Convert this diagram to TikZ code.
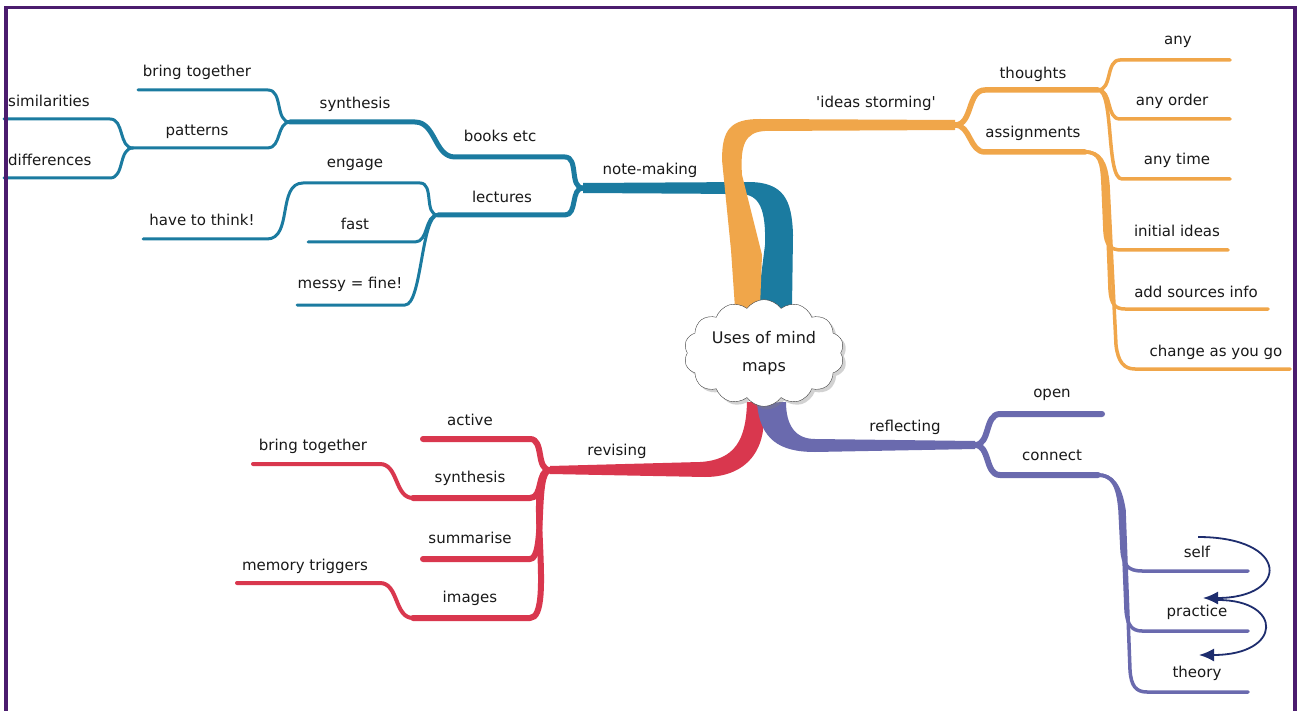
\documentclass[tikz,border=0pt]{standalone}
\usepackage{fontspec}
\setmainfont{DejaVu Sans}
\usetikzlibrary{shapes.symbols,shadows,arrows.meta}
\definecolor{mmblue}{HTML}{1B7BA0}
\definecolor{mmorange}{HTML}{F0A64A}
\definecolor{mmred}{HTML}{D9374E}
\definecolor{mmpurple}{HTML}{6A6AAE}
\definecolor{mmnavy}{HTML}{1E2D6E}
\definecolor{mmframe}{HTML}{4B1C6E}
\begin{document}
\begin{tikzpicture}[x=1pt,y=-1pt,
  font=\fontsize{15}{17}\selectfont,
  lbl/.style={inner sep=0pt,text=black!90},
  brbase/.style={line cap=round,line join=round},
  bleaf/.style={brbase,draw=mmblue,line width=3pt},
  bmid/.style={brbase,draw=mmblue,line width=5pt},
  oleaf/.style={brbase,draw=mmorange,line width=3.5pt},
  omid/.style={brbase,draw=mmorange,line width=5.5pt},
  rleaf/.style={brbase,draw=mmred,line width=4pt},
  rmid/.style={brbase,draw=mmred,line width=6pt},
  pleaf/.style={brbase,draw=mmpurple,line width=3.5pt},
  pmid/.style={brbase,draw=mmpurple,line width=6pt},
  cyc/.style={draw=mmnavy,line width=1.8pt,-{Latex[length=15pt,width=13pt,fill=mmnavy]}},
  long/.style={out=0,in=180,looseness=0.45}]
\useasboundingbox (0,0) rectangle (1298,711);
\fill[white] (0,0) rectangle (1298,711);

% ---------- blue: note-making ----------
\coordinate (nmJ) at (583,188);
\coordinate (synJ) at (290,122);
\coordinate (patJ) at (133,148);
\coordinate (lecJ) at (438,215);
\fill[mmblue] (nmJ) -- (583,183) -- (748,182) .. controls (784,182) and (792,200) .. (793,235)
  -- (792,308) -- (757,308) -- (765,245) .. controls (766,210) and (760,194) .. (740,194) -- (583,193) -- cycle;
\draw[bmid] (synJ) -- (415,122) to[out=0,in=180] (455,157) -- (565,157) to[out=0,in=180] (nmJ);
\draw[bmid] (lecJ) -- (565,215) to[out=0,in=180] (nmJ);
\draw[bleaf] (138,90) -- (268,90) to[out=0,in=180] (synJ);
\draw[bleaf] (patJ) -- (268,148) to[out=0,in=180] (synJ);
\draw[bleaf] (4,119) -- (110,119) to[out=0,in=180] (patJ);
\draw[bleaf] (4,178) -- (110,178) to[out=0,in=180] (patJ);
\draw[bleaf] (143,239) -- (267,239) to[out=0,in=180] (303,183) -- (420,183) to[out=0,in=180] (lecJ);
\draw[bleaf] (308,242) -- (415,242) to[out=0,in=180] (lecJ);
\draw[bleaf] (297,305) -- (405,305) to[long] (lecJ);

% ---------- orange: ideas storming ----------
\coordinate (idJ) at (955,125);
\coordinate (thJ) at (1098,90);
\coordinate (asJ) at (1085,152);
\fill[mmorange] (idJ) -- (955,120) -- (760,119) .. controls (730,119) and (722,130) .. (722,160)
  -- (731,250) -- (735,308) -- (760,308) -- (762,255) -- (742,175)
  .. controls (740,145) and (745,132) .. (765,131) -- (955,130) -- cycle;
\draw[omid] (idJ) to[out=0,in=180] (985,90) -- (thJ);
\draw[omid] (idJ) to[out=0,in=180] (985,152) -- (asJ);
\draw[oleaf] (thJ) to[out=0,in=180] (1120,60) -- (1230,60);
\draw[oleaf] (thJ) to[out=0,in=180] (1120,119) -- (1230,119);
\draw[oleaf] (thJ) to[long] (1122,179) -- (1230,179);
\draw[oleaf] (asJ) .. controls (1100,152) and (1102,162) .. (1103,185) -- (1105,232)
  .. controls (1106,245) and (1110,250) .. (1122,250) -- (1228,250);
\draw[oleaf] (asJ) .. controls (1100,152) and (1104,162) .. (1106,185) -- (1110,290)
  .. controls (1111,304) and (1115,309) .. (1125,309) -- (1268,309);
\draw[oleaf] (asJ) .. controls (1100,152) and (1106,162) .. (1108,185) -- (1116,345)
  .. controls (1118,362) and (1124,369) .. (1135,369) -- (1290,369);

% ---------- red: revising ----------
\coordinate (rvJ) at (550,470);
\fill[mmred] (rvJ) -- (550,466) -- (700,462) .. controls (735,460) and (746,440) .. (747,402)
  -- (762,402) .. controls (770,445) and (750,477) .. (705,477) -- (550,474) -- cycle;
\draw[rmid] (423,439) -- (530,439) to[out=0,in=180] (rvJ);
\draw[rmid] (413,498) -- (530,498) to[out=0,in=180] (rvJ);
\draw[rleaf] (253,464) -- (380,464) to[out=0,in=180] (413,498);
\draw[rmid] (423,559) -- (530,559) to[long] (rvJ);
\draw[rmid] (413,618) -- (530,618) to[long] (rvJ);
\draw[rleaf] (237,583) -- (380,583) to[out=0,in=180] (413,618);

% ---------- purple: reflecting ----------
\coordinate (rfJ) at (975,445);
\coordinate (cnJ) at (1098,475);
\fill[mmpurple] (757,403) .. controls (760,440) and (780,452) .. (815,452) -- (975,449) -- (rfJ)
  -- (975,441) -- (815,439) .. controls (795,439) and (786,425) .. (786,402) -- cycle;
\draw[pmid] (rfJ) to[out=0,in=180] (1000,414) -- (1102,414);
\draw[pmid] (rfJ) to[out=0,in=180] (1000,475) -- (cnJ);
\draw[pleaf] (cnJ) .. controls (1112,475) and (1118,485) .. (1120,510) -- (1122,550)
  .. controls (1123,565) and (1128,571) .. (1142,571) -- (1248,571);
\draw[pleaf] (cnJ) .. controls (1112,475) and (1119,485) .. (1122,510) -- (1126,610)
  .. controls (1127,625) and (1132,631) .. (1142,631) -- (1248,631);
\draw[pleaf] (cnJ) .. controls (1112,475) and (1120,485) .. (1124,510) -- (1130,670)
  .. controls (1131,686) and (1136,692) .. (1147,692) -- (1248,692);

% ---------- centre ----------
\node[cloud,cloud puffs=14,cloud puff arc=110,aspect=1.6,draw=black!75,fill=white,
  drop shadow={shadow xshift=3pt,shadow yshift=-3pt,opacity=0.35},
  minimum width=160pt,minimum height=100pt,align=center,inner sep=0pt,
  font=\fontsize{16}{28}\selectfont,text=black!90] (cloud) at (764,353) {Uses of mind\\maps};

% ---------- labels ----------
\node[lbl,anchor=west] (l01) at (8,101) {similarities};
\node[lbl,anchor=west] (l02) at (8,160) {differences};
\node[lbl] (l03) at (197,72) {bring together};
\node[lbl] (l04) at (197,132) {patterns};
\node[lbl] (l05) at (355,104) {synthesis};
\node[lbl] (l06) at (500,136) {books etc};
\node[lbl] (l07) at (650,170) {note-making};
\node[lbl] (l08) at (355,165) {engage};
\node[lbl] (l09) at (502,197) {lectures};
\node[lbl] (l10) at (202,220) {have to think!};
\node[lbl] (l11) at (355,224) {fast};
\node[lbl] (l12) at (350,284) {messy = fine!};
\node[lbl] (l13) at (876,103) {\textquotesingle ideas storming\textquotesingle};
\node[lbl] (l14) at (1033,74) {thoughts};
\node[lbl] (l15) at (1033,133) {assignments};
\node[lbl] (l16) at (1178,42) {any};
\node[lbl] (l17) at (1172,101) {any order};
\node[lbl] (l18) at (1177,160) {any time};
\node[lbl] (l19) at (1177,231) {initial ideas};
\node[lbl] (l20) at (1196,292) {add sources info};
\node[lbl] (l21) at (1216,352) {change as you go};
\node[lbl] (l22) at (470,420) {active};
\node[lbl] (l23) at (313,446) {bring together};
\node[lbl] (l24) at (470,478) {synthesis};
\node[lbl] (l25) at (617,451) {revising};
\node[lbl] (l26) at (470,538) {summarise};
\node[lbl] (l27) at (305,566) {memory triggers};
\node[lbl] (l28) at (470,598) {images};
\node[lbl] (l29) at (905,427) {reflecting};
\node[lbl] (l30) at (1052,395) {open};
\node[lbl] (l31) at (1052,455) {connect};
\node[lbl] (l32) at (1197,552) {self};
\node[lbl] (l33) at (1197,612) {practice};
\node[lbl] (l34) at (1197,673) {theory};

% ---------- cycle arrows ----------
\coordinate (a1s) at (1198,537);
\coordinate (a1e) at (1203,598);
\coordinate (a2s) at (1218,600);
\coordinate (a2e) at (1199,655);
\draw[cyc] (a1s) .. controls (1290,537) and (1290,598) .. (a1e);
\draw[cyc] (a2s) .. controls (1283,600) and (1283,655) .. (a2e);

% ---------- frame ----------
\draw[mmframe,line width=3.6pt] (5.7,7.5) rectangle (1295,730);
\end{tikzpicture}
\end{document}
